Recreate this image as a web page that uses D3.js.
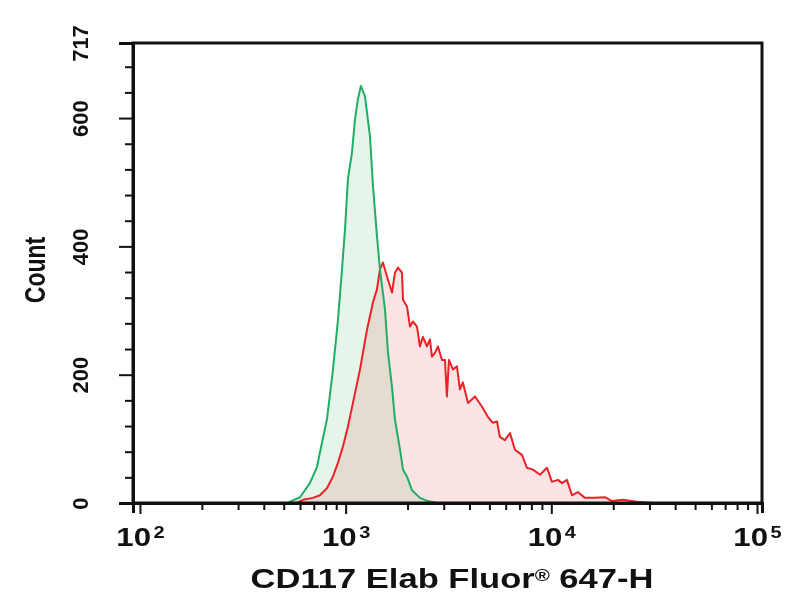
<!DOCTYPE html>
<html>
<head>
<meta charset="utf-8">
<script src="https://cdn.jsdelivr.net/npm/d3@7"></script>
<style>
  body { margin: 0; background: #fff; }
  text { font-family: "Liberation Sans", Arial, sans-serif; fill: #111; }
</style>
</head>
<body>
<div id="chart"></div>
<script>
// histogram bins: bin position (fluorescence) and count
var greenX = [519, 600, 670, 725, 767, 811, 867, 918, 960, 993, 1026, 1074, 1110, 1148, 1186, 1241,
              1270, 1313, 1358, 1420, 1468, 1553, 1606, 1680, 1737, 1838, 1901, 1988, 2101, 2297, 2512, 2778];
var greenY = [0, 9, 31, 56, 94, 130, 207, 286, 364, 427, 505, 547, 598, 630, 650, 634,
              609, 572, 494, 416, 364, 302, 235, 181, 130, 83, 52, 41, 20, 8, 3, 0];

var redX = [575, 620, 693, 750, 811, 867, 918, 970, 1026, 1085, 1174, 1270, 1358, 1420, 1468, 1518,
            1553, 1606, 1680, 1737, 1796, 1879, 1901, 1988, 2055, 2125, 2222, 2297, 2375, 2485, 2569,
            2628, 2718, 2810, 2940, 3040, 3107, 3177, 3325, 3476, 3594, 3715, 3935, 4256, 4603, 4920,
            5200, 5445, 5623, 5945, 6295, 6653, 7194, 7605, 8143, 8810, 9528, 10070, 10770, 11270,
            11910, 12600, 13460, 14560, 16290, 18230, 19720, 22300, 26080, 31190, 35650];
var redY = [0, 5, 8, 12, 23, 41, 63, 88, 119, 156, 208, 270, 313, 333, 364, 375,
            364, 348, 328, 359, 367, 359, 317, 306, 275, 283, 275, 244, 259, 244, 255,
            228, 234, 244, 223, 223, 166, 223, 208, 213, 177, 188, 156, 166, 150, 134,
            125, 127, 103, 98, 109, 83, 75, 55, 52, 44, 55, 33, 36, 31,
            36, 12, 17, 8, 8, 9, 3, 5, 2, 0, 0];

// axes
var xExtent = [92.5, 105750];
var xMajor = [100, 1000, 10000, 100000];
var xExponents = ["2", "3", "4", "5"];
var xMinor = [200, 300, 400, 500, 600, 700, 800, 900,
              2000, 3000, 4000, 5000, 6000, 7000, 8000, 9000,
              20000, 30000, 40000, 50000, 60000, 70000, 80000, 90000];
var yExtent = [0, 717];
var yMajor = [0, 200, 400, 600, 717];
var yMinor = [40, 80, 120, 160, 240, 280, 320, 360, 440, 480, 520, 560, 640, 680];

var xTitle = "CD117 Elab Fluor";
var yTitle = "Count";

var margin = {top: 43, right: 42, bottom: 97, left: 133},
    width = 804 - margin.left - margin.right,
    height = 600 - margin.top - margin.bottom;

var svg = d3.select("#chart")
  .append("svg")
    .attr("width", width + margin.left + margin.right)
    .attr("height", height + margin.top + margin.bottom)
  .append("g")
    .attr("transform", "translate(" + margin.left + "," + margin.top + ")");

var x = d3.scaleLog().domain(xExtent).range([0, width]);
var y = d3.scaleLinear().domain(yExtent).range([height, 0]);

var green = greenX.map(function(d, i) { return {x: d, y: greenY[i]}; });
var red = redX.map(function(d, i) { return {x: d, y: redY[i]}; });

var area = d3.area()
  .x(function(d) { return x(d.x); })
  .y0(height)
  .y1(function(d) { return y(d.y); });
var line = d3.line()
  .x(function(d) { return x(d.x); })
  .y(function(d) { return y(d.y); });

// fills first, multiplied so the overlap goes greyish
svg.append("path").datum(green)
  .attr("d", area).attr("fill", "#e6f5ea")
  .style("mix-blend-mode", "multiply");
svg.append("path").datum(red)
  .attr("d", area).attr("fill", "#fde4e4")
  .style("mix-blend-mode", "multiply");

svg.append("path").datum(red)
  .attr("d", line).attr("fill", "none")
  .attr("stroke", "#ea2228").attr("stroke-width", 2)
  .attr("stroke-linejoin", "round");
svg.append("path").datum(green)
  .attr("d", line).attr("fill", "none")
  .attr("stroke", "#1fae66").attr("stroke-width", 2)
  .attr("stroke-linejoin", "round");

// frame
svg.append("rect")
  .attr("width", width).attr("height", height)
  .attr("fill", "none").attr("stroke", "#111").attr("stroke-width", 3);

// x axis
var xAxisMinor = svg.append("g")
  .attr("transform", "translate(0," + height + ")")
  .call(d3.axisBottom(x).tickValues(xMinor).tickSize(7).tickFormat(""));
xAxisMinor.select(".domain").remove();

var xAxis = svg.append("g")
  .attr("transform", "translate(0," + height + ")")
  .call(d3.axisBottom(x).tickValues(xMajor).tickSize(11).tickSizeOuter(10));

xAxis.selectAll(".tick text").each(function(d, i) {
  var t = d3.select(this)
    .text(null)
    .attr("y", 43).attr("dy", null)
    .attr("font-size", 25).attr("font-weight", "bold")
    .attr("transform", "scale(1.25,1)");
  t.append("tspan").text("10");
  t.append("tspan").attr("dx", 2).attr("dy", -8).attr("font-size", 16).text(xExponents[i]);
});

// y axis
var yAxisMinor = svg.append("g")
  .call(d3.axisLeft(y).tickValues(yMinor).tickSize(8).tickFormat(""));
yAxisMinor.select(".domain").remove();

var yAxis = svg.append("g")
  .call(d3.axisLeft(y).tickValues(yMajor).tickSize(14).tickSizeOuter(14).tickFormat(d3.format("d")));

yAxis.selectAll(".tick text")
  .attr("x", 0).attr("dy", null)
  .attr("text-anchor", "middle")
  .attr("font-size", 22).attr("font-weight", "bold")
  .attr("transform", "translate(-45,0) rotate(-90)");

[xAxis, xAxisMinor, yAxis, yAxisMinor].forEach(function(g) {
  g.selectAll(".tick line").attr("stroke", "#111").attr("stroke-width", 2);
  g.select(".domain").attr("stroke", "#111").attr("stroke-width", 3);
});

// titles
var xt = svg.append("text")
  .attr("text-anchor", "middle")
  .attr("font-size", 27).attr("font-weight", "bold")
  .attr("transform", "translate(319,545) scale(1.28,1)");
xt.append("tspan").text(xTitle);
xt.append("tspan").attr("font-size", 16).attr("dy", -7).text("\u00ae");
xt.append("tspan").attr("dy", 7).text(" 647-H");

svg.append("text")
  .attr("text-anchor", "middle")
  .attr("font-size", 23).attr("font-weight", "bold")
  .attr("transform", "translate(-88,227) rotate(-90) scale(1,1.3)")
  .text(yTitle);
</script>
</body>
</html>
